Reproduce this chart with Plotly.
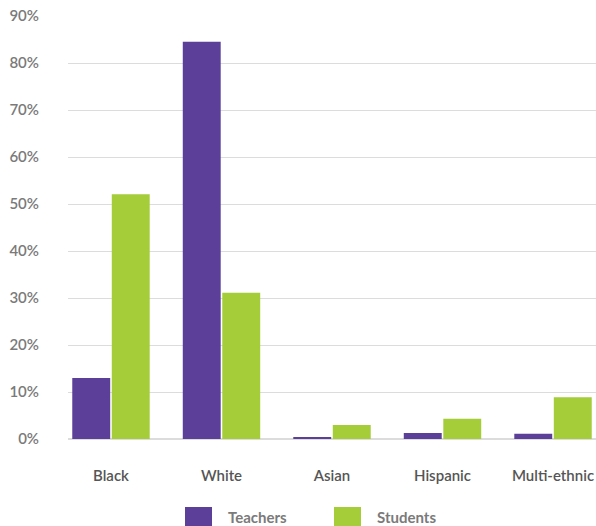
import plotly.graph_objects as go

categories = ["Black", "White", "Asian", "Hispanic", "Multi-ethnic"]
teachers = [13.0, 84.5, 0.4, 1.3, 1.1]
students = [52.1, 31.1, 3.0, 4.3, 8.9]
series_names = ["Teachers", "Students"]
y_ticks = [0, 10, 20, 30, 40, 50, 60, 70, 80, 90]
y_tick_labels = [f"{v}%" for v in y_ticks]

PURPLE = "#5B3F99"
GREEN = "#A5CD39"
FONT = "Lato, sans-serif"

W, H = 596, 526
ML, MR, MT, MB = 68, 0, 16, 87

fig = go.Figure()
fig.add_trace(go.Bar(x=categories, y=teachers, name=series_names[0],
                     marker=dict(color=PURPLE, line=dict(width=0)), showlegend=False))
fig.add_trace(go.Bar(x=categories, y=students, name=series_names[1],
                     marker=dict(color=GREEN, line=dict(width=0)), showlegend=False))

fig.update_layout(
    width=W, height=H,
    margin=dict(l=ML, r=MR, t=MT, b=MB),
    paper_bgcolor="white", plot_bgcolor="white",
    barmode="group", bargap=0.285, bargroupgap=0.04,
    font=dict(family=FONT),
    xaxis=dict(range=[-0.389, 4.389], showgrid=False, showline=False, zeroline=False,
               ticks="", ticklabelstandoff=26,
               tickfont=dict(family=FONT, size=15, color="#555555", weight=600)),
    yaxis=dict(range=[0, 90], tickvals=y_ticks, ticktext=y_tick_labels,
               showgrid=True, gridcolor="#DCDCDC", gridwidth=1,
               zeroline=True, zerolinecolor="#DCDCDC", zerolinewidth=2,
               showline=False, ticks="", ticklabelstandoff=28,
               tickfont=dict(family=FONT, size=15, color="#7A7A7A", weight=600)),
)

# custom legend with large swatches
legend_items = [(series_names[0], PURPLE, 185), (series_names[1], GREEN, 334)]
for name, color, x0 in legend_items:
    fig.add_shape(type="rect", xref="paper", yref="paper",
                  x0=(x0 - ML) / (W - ML - MR), x1=(x0 + 27 - ML) / (W - ML - MR),
                  y0=(H - MB - 526) / (H - MT - MB), y1=(H - MB - 507) / (H - MT - MB),
                  fillcolor=color, line=dict(width=0), layer="above")
    fig.add_annotation(text=f"<b>{name}</b>", xref="paper", yref="paper", showarrow=False,
                       x=(x0 + 41 - ML) / (W - ML - MR), y=(H - MB - 517) / (H - MT - MB),
                       xanchor="left", yanchor="middle",
                       font=dict(family=FONT, size=15, color="#7A7A7A"))

fig.write_html("out.html", config={"displayModeBar": False},
               post_script="document.body.style.margin='0';document.body.style.padding='0';document.body.style.overflow='hidden';")
